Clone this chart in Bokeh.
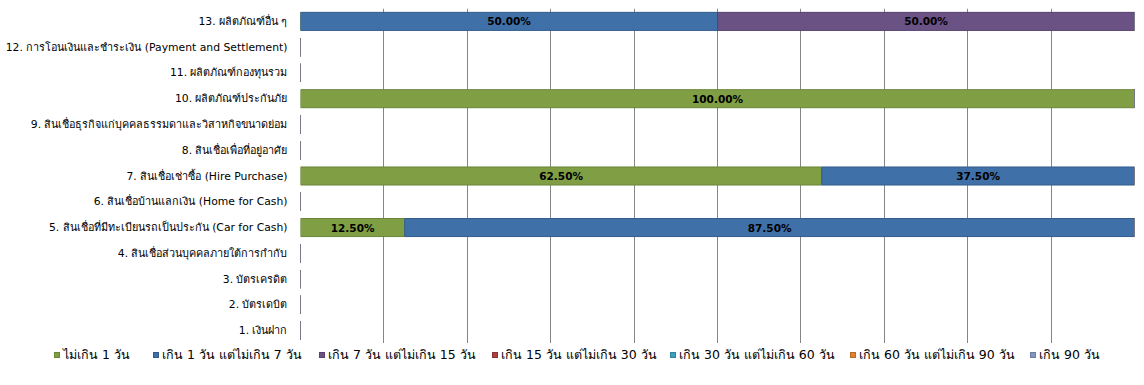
from bokeh.plotting import figure
from bokeh.layouts import column
from bokeh.models import ColumnDataSource, Range1d, FixedTicker, Div
from bokeh.core.properties import value
from bokeh.embed import file_html
from bokeh.resources import INLINE

categories = [
    "1. เงินฝาก",
    "2. บัตรเดบิต",
    "3. บัตรเครดิต",
    "4. สินเชื่อส่วนบุคคลภายใต้การกำกับ",
    "5. สินเชื่อที่มีทะเบียนรถเป็นประกัน (Car for Cash)",
    "6. สินเชื่อบ้านแลกเงิน (Home for Cash)",
    "7. สินเชื่อเช่าซื้อ (Hire Purchase)",
    "8. สินเชื่อเพื่อที่อยู่อาศัย",
    "9. สินเชื่อธุรกิจแก่บุคคลธรรมดาและวิสาหกิจขนาดย่อม",
    "10. ผลิตภัณฑ์ประกันภัย",
    "11. ผลิตภัณฑ์กองทุนรวม",
    "12. การโอนเงินและชำระเงิน (Payment and Settlement)",
    "13. ผลิตภัณฑ์อื่น ๆ",
]

series_names = [
    "ไม่เกิน 1 วัน",
    "เกิน 1 วัน แต่ไม่เกิน 7 วัน",
    "เกิน 7 วัน แต่ไม่เกิน 15 วัน",
    "เกิน 15 วัน แต่ไม่เกิน 30 วัน",
    "เกิน 30 วัน แต่ไม่เกิน 60 วัน",
    "เกิน 60 วัน แต่ไม่เกิน 90 วัน",
    "เกิน 90 วัน",
]

s1 = [0, 0, 0, 0, 12.5, 0, 62.5, 0, 0, 100, 0, 0, 0]
s2 = [0, 0, 0, 0, 87.5, 0, 37.5, 0, 0, 0, 0, 0, 50]
s3 = [0, 0, 0, 0, 0, 0, 0, 0, 0, 0, 0, 0, 50]
s4 = [0] * 13
s5 = [0] * 13
s6 = [0] * 13
s7 = [0] * 13

series_values = [s1, s2, s3, s4, s5, s6, s7]
colors = ["#809f45", "#4070a8", "#6b5285", "#a8413f", "#3aa0bb", "#e0812e", "#8096c0"]
line_colors = ["#6a8538", "#335c8c", "#57426d", "#8a3533", "#2f849b", "#b96a25", "#6a7ea3"]

# legend entry widths (layout only, px)
legend_widths = [99, 166, 173, 178, 180, 180, 120]

keys = [f"s{i+1}" for i in range(len(series_values))]
data = {"cat": categories}
for k, v in zip(keys, series_values):
    data[k] = v
source = ColumnDataSource(data)

FONT = "DejaVu Sans"

p = figure(
    y_range=categories,
    x_range=Range1d(0, 100),
    x_axis_location=None,
    width=1136,
    height=343,
    min_border_left=300,
    min_border_right=2,
    min_border_top=8,
    min_border_bottom=0,
    toolbar_location=None,
    output_backend="svg",
)

renderers = p.hbar_stack(
    keys,
    y="cat",
    height=0.7,
    fill_color=colors,
    line_color=line_colors,
    line_width=1,
    source=source,
)

# data labels
lx, ly, lt = [], [], []
for ci, cat in enumerate(categories):
    start = 0.0
    for vals in series_values:
        v = vals[ci]
        if v > 0:
            lx.append(start + v / 2)
            ly.append(cat)
            lt.append(f"{v:.2f}%")
        start += v
p.text(
    x=lx, y=ly, text=lt,
    text_font=value(FONT), text_font_style="bold", text_font_size="10.5px",
    text_align="center", text_baseline="middle", text_color="#000000",
)

p.xgrid.ticker = FixedTicker(ticks=[0, 10, 20, 30, 40, 50, 60, 70, 80, 90, 100])
p.xgrid.grid_line_color = "#868686"
p.xgrid.grid_line_width = 1
p.ygrid.grid_line_color = None
p.outline_line_color = None

p.yaxis.axis_line_color = None
p.yaxis.major_tick_line_color = None
p.yaxis.minor_tick_line_color = None
p.yaxis.major_tick_out = 0
p.yaxis.major_tick_in = 0
p.yaxis.major_label_standoff = 13
p.yaxis.major_label_text_font = FONT
p.yaxis.major_label_text_font_size = "10.8px"
p.yaxis.major_label_text_color = "#000000"

# legend row (HTML) below the chart
items_html = "".join(
    f'<span style="display:inline-flex;align-items:center;width:{w}px;flex:none;">'
    f'<span style="display:inline-block;width:6px;height:6px;background:{c};'
    f'border:1px solid {lc};margin-right:3px;"></span>{n}</span>'
    for n, c, lc, w in zip(series_names, colors, line_colors, legend_widths)
)
legend_div = Div(
    text=(
        f'<div style="display:flex;align-items:center;padding-left:54px;padding-top:4px;'
        f'font-family:\'{FONT}\';font-size:12.5px;line-height:15px;color:#000;white-space:nowrap;">'
        f"{items_html}</div>"
    ),
    width=1136,
    height=29,
    margin=0,
)

layout = column(p, legend_div, spacing=0)
open("out.html", "w").write(file_html(layout, INLINE))
